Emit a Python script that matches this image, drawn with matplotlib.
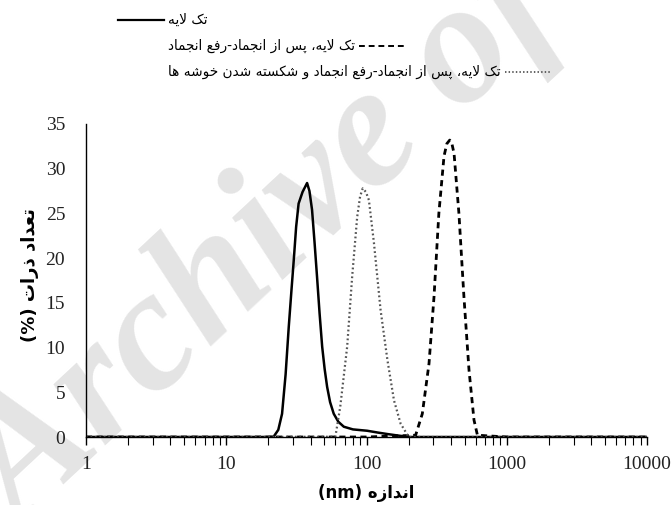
"""
Particle size distribution (DLS) of the single layer sample before and after
freeze-thaw, plotted on a log size axis with a Persian legend.
"""

import matplotlib
matplotlib.use("Agg")
import matplotlib.pyplot as plt
from matplotlib.lines import Line2D

# size (nm) / number (%) read for each sample
single_nm = [1, 10, 20, 21.8, 23.5, 25.0, 26.5, 27.9, 29.2, 30.3, 31.5, 32.8, 35.0,
             37.7, 39.2, 40.9, 42.6, 44.4, 46.3, 48.3, 50.3, 52.4, 55.0, 58.4, 63.0,
             68.9, 80, 101, 120, 141, 170, 206, 1000, 10000]
single_pct = [0, 0, 0, 0.05, 0.8, 2.6, 7.0, 12.3, 16.5, 19.8, 23.5, 26.1, 27.4,
              28.4, 27.5, 25.4, 21.8, 17.9, 13.8, 10.1, 7.6, 5.6, 3.9, 2.6, 1.7,
              1.15, 0.85, 0.7, 0.5, 0.33, 0.15, 0, 0, 0]

freeze_nm = [1, 100, 224, 250, 279, 303, 328, 357, 374, 392, 405, 421, 456, 495,
             538, 584, 618, 1000, 10000]
freeze_pct = [0, 0, 0.2, 2.6, 8.2, 15.7, 25.0, 31.4, 32.8, 33.2, 32.9, 31.7, 25.0,
              15.7, 7.5, 1.9, 0.2, 0, 0]

broken_nm = [1, 10, 60, 65, 72.8, 79, 85.8, 90, 94, 99, 104, 113, 126, 141, 157,
             175, 200, 1000, 10000]
broken_pct = [0, 0, 0.03, 3.4, 10.1, 17.9, 24.6, 26.9, 27.8, 27.4, 26.5, 21.7, 14.2,
              8.6, 4.1, 1.5, 0, 0, 0]

legend_labels = [
    "تک لایه",
    "تک لایه، پس از انجماد-رفع انجماد",
    "تک لایه، پس از انجماد-رفع انجماد و شکسته شدن خوشه ها",
]
x_label = "اندازه"
y_label = "تعداد ذرات"
x_ticks = [1, 10, 100, 1000, 10000]
y_ticks = [0, 5, 10, 15, 20, 25, 30, 35]

# isolated, final, initial, medial presentation forms
FORMS = {
    "ا": ("\uFE8D", "\uFE8E"),
    "د": ("\uFEA9", "\uFEAA"),
    "ذ": ("\uFEAB", "\uFEAC"),
    "ر": ("\uFEAD", "\uFEAE"),
    "ز": ("\uFEAF", "\uFEB0"),
    "و": ("\uFEED", "\uFEEE"),
    "ت": ("\uFE95", "\uFE96", "\uFE97", "\uFE98"),
    "ج": ("\uFE9D", "\uFE9E", "\uFE9F", "\uFEA0"),
    "خ": ("\uFEA5", "\uFEA6", "\uFEA7", "\uFEA8"),
    "س": ("\uFEB1", "\uFEB2", "\uFEB3", "\uFEB4"),
    "ش": ("\uFEB5", "\uFEB6", "\uFEB7", "\uFEB8"),
    "ع": ("\uFEC9", "\uFECA", "\uFECB", "\uFECC"),
    "ف": ("\uFED1", "\uFED2", "\uFED3", "\uFED4"),
    "ل": ("\uFEDD", "\uFEDE", "\uFEDF", "\uFEE0"),
    "م": ("\uFEE1", "\uFEE2", "\uFEE3", "\uFEE4"),
    "ن": ("\uFEE5", "\uFEE6", "\uFEE7", "\uFEE8"),
    "ه": ("\uFEE9", "\uFEEA", "\uFEEB", "\uFEEC"),
    "پ": ("\uFB56", "\uFB57", "\uFB58", "\uFB59"),
    "ک": ("\uFB8E", "\uFB8F", "\uFB90", "\uFB91"),
    "ی": ("\uFBFC", "\uFBFD", "\uFBFE", "\uFBFF"),
}


def rtl(text):
    """Join Persian letters and return them in left-to-right drawing order."""
    out = []
    i = 0
    while i < len(text):
        c = text[i]
        prev = text[i - 1] if i > 0 else ""
        link_prev = len(FORMS.get(prev, ())) == 4 and c in FORMS
        if c == "ل" and i + 1 < len(text) and text[i + 1] == "ا":
            out.append("\uFEFC" if link_prev else "\uFEFB")
            i += 2
            continue
        if c not in FORMS:
            out.append(c)
            i += 1
            continue
        forms = FORMS[c]
        nxt = text[i + 1] if i + 1 < len(text) else ""
        link_next = len(forms) == 4 and nxt in FORMS
        if link_prev and link_next:
            out.append(forms[3])
        elif link_prev:
            out.append(forms[1])
        elif link_next:
            out.append(forms[2])
        else:
            out.append(forms[0])
        i += 1
    return "".join(reversed(out))


W, H, DPI = 672, 505, 100
fig = plt.figure(figsize=(W / DPI, H / DPI), dpi=DPI)

# faint diagonal watermark behind everything
fig.text(22 / W, 1 - 532 / H, "Archive of SID", rotation=43, rotation_mode="anchor",
         ha="left", va="baseline", fontsize=125, family="Liberation Serif",
         weight="bold", style="italic", color="#e4e4e4", zorder=-1)

ax = fig.add_axes([86 / W, 1 - 437 / H, (647 - 86) / W, (437 - 124) / H])
ax.set_facecolor("none")

ax.plot(single_nm, single_pct, color="black", lw=1.8, solid_joinstyle="round")
ax.plot(freeze_nm, freeze_pct, color="black", lw=2.0, dashes=(2.2, 1.6))
ax.plot(broken_nm, broken_pct, color="#555555", lw=1.6, linestyle=(0, (0.8, 1.2)))

ax.set_xscale("log")
ax.set_xlim(1, 10000)
ax.set_ylim(0, 35)
ax.set_xticks(x_ticks)
ax.set_xticklabels([str(t) for t in x_ticks])
ax.set_yticks(y_ticks)
for side in ("top", "right"):
    ax.spines[side].set_visible(False)
for side in ("left", "bottom"):
    ax.spines[side].set_linewidth(1.0)
ax.tick_params(axis="y", length=0, pad=15, labelsize=14, labelcolor="#222222")
ax.tick_params(axis="x", which="major", length=6, width=1, direction="out",
               pad=8, labelsize=14, labelcolor="#222222")
ax.tick_params(axis="x", which="minor", length=6, width=0.8, direction="out")
for lab in ax.get_xticklabels() + ax.get_yticklabels():
    lab.set_family("Liberation Serif")

fig.text(366 / W, 1 - 493 / H, "(nm) " + rtl(x_label), ha="center", va="center",
         fontsize=12, weight="bold", family=["DejaVu Sans"])
fig.text(30 / W, 1 - 275 / H, "(%) " + rtl(y_label), ha="center", va="center",
         rotation=90, fontsize=13, weight="bold", family=["DejaVu Sans"])

# legend drawn by hand: label text with its line sample
renderer = fig.canvas.get_renderer()
rows = [(20, "-", 1.6, "black", None), (46, "--", 1.4, "black", (3, 2)),
        (72, ":", 1.3, "#555555", (0.8, 1.2))]
for label, (py, ls, lw, col, dash) in zip(legend_labels, rows):
    t = fig.text(168 / W, 1 - py / H, rtl(label), ha="left", va="center",
                 fontsize=9.8, family=["DejaVu Sans"], color="black")
    y = 1 - py / H
    if ls == "-":
        x0, x1 = 118 / W, 164 / W
    else:
        bb = t.get_window_extent(renderer)
        x0 = (bb.x1 + 4) / W
        x1 = x0 + 46 / W
    line = Line2D([x0, x1], [y, y], transform=fig.transFigure, color=col, lw=lw)
    if dash is not None:
        line.set_dashes(dash)
    fig.add_artist(line)

fig.savefig("out.png", dpi=DPI)
